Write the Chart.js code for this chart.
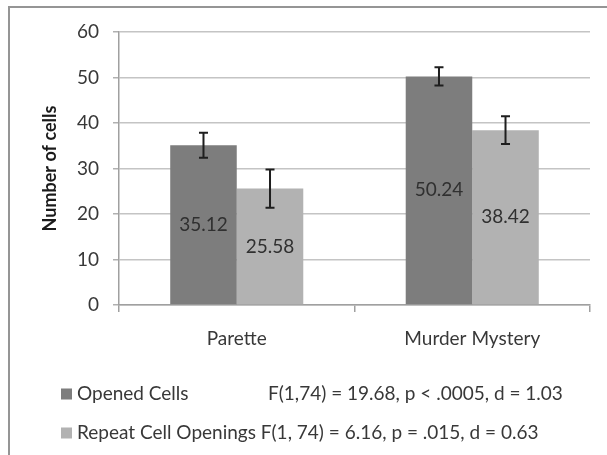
<!DOCTYPE html>
<html>
<head>
<meta charset="utf-8">
<script src="https://cdn.jsdelivr.net/npm/chart.js@4.4.1/dist/chart.umd.min.js"></script>
<style>
    body { margin: 0; background: #fff; }
    #wrap { position: relative; width: 607px; height: 455px; overflow: hidden; }
    #frame { position: absolute; left: 8px; top: 6px; width: 620px; height: 470px;
             border-left: 2px solid #959595; border-top: 2px solid #959595; }
    canvas { position: absolute; left: 0; top: 0; }
</style>
</head>
<body>
<div id="wrap">
    <div id="frame"></div>
    <canvas id="chartCells" width="607" height="455"></canvas>
</div>
<script>
// 数据
const categories = ['Parette', 'Murder Mystery'];
const seriesNames = ['Opened Cells', 'Repeat Cell Openings'];
const openedCells = [35.12, 50.24];
const repeatOpenings = [25.58, 38.42];
const openedErr = [2.75, 2.0];
const repeatErr = [4.2, 3.05];
const statTexts = ['F(1,74) = 19.68, p < .0005, d = 1.03', 'F(1, 74) = 6.16, p = .015, d = 0.63'];

const barColors = ['#7d7d7d', '#b2b2b2'];
const errors = [openedErr, repeatErr];
const textFont = '19px Lato';
const textColor = '#383838';

// 误差线 + 数值标签
const barExtras = {
    id: 'barExtras',
    afterDatasetsDraw(chart) {
        const ctx = chart.ctx;
        const yScale = chart.scales.y;
        ctx.save();
        chart.data.datasets.forEach((ds, di) => {
            chart.getDatasetMeta(di).data.forEach((bar, i) => {
                const v = ds.data[i];
                // label in the middle of the bar
                ctx.fillStyle = '#303030';
                ctx.font = textFont;
                ctx.textAlign = 'center';
                ctx.textBaseline = 'middle';
                ctx.fillText(v.toFixed(2), bar.x, (bar.y + bar.base) / 2);
                // error bar
                const e = errors[di][i];
                const yTop = yScale.getPixelForValue(v + e);
                const yBot = yScale.getPixelForValue(v - e);
                ctx.strokeStyle = '#1e1e1e';
                ctx.lineWidth = 2;
                ctx.beginPath();
                ctx.moveTo(bar.x, yTop); ctx.lineTo(bar.x, yBot);
                ctx.moveTo(bar.x - 4.5, yTop); ctx.lineTo(bar.x + 4.5, yTop);
                ctx.moveTo(bar.x - 4.5, yBot); ctx.lineTo(bar.x + 4.5, yBot);
                ctx.stroke();
            });
        });
        ctx.restore();
    }
};

// 图例（带统计结果）
const statLegend = {
    id: 'statLegend',
    afterDraw(chart) {
        const ctx = chart.ctx;
        const rows = [394, 433];
        ctx.save();
        ctx.font = textFont;
        ctx.textBaseline = 'middle';
        ctx.textAlign = 'left';
        seriesNames.forEach((name, i) => {
            ctx.fillStyle = barColors[i];
            ctx.fillRect(61, rows[i] - 5.5, 11, 11);
            ctx.fillStyle = textColor;
            ctx.fillText(name, 77, rows[i]);
            // 第一行对齐到固定列，第二行紧跟标签
            const sx = i === 0 ? 268 : 77 + ctx.measureText(name + ' ').width;
            ctx.fillText(statTexts[i], sx, rows[i]);
        });
        ctx.restore();
    }
};

let config_chartCells = {
    type: 'bar',
    data: {
        labels: categories,
        datasets: [
            { label: seriesNames[0], data: openedCells, backgroundColor: barColors[0] },
            { label: seriesNames[1], data: repeatOpenings, backgroundColor: barColors[1] }
        ]
    },
    options: {
        responsive: false,
        animation: false,
        categoryPercentage: 0.565,
        barPercentage: 1.0,
        layout: { padding: { top: 32, right: 17, left: 0, bottom: 0 } },
        plugins: { legend: { display: false }, tooltip: { enabled: false } },
        scales: {
            x: {
                grid: { display: true, drawOnChartArea: false, drawTicks: true, tickLength: 7, color: '#a0a0a0', lineWidth: 1.5 },
                border: { color: '#a0a0a0', width: 1.5 },
                ticks: { font: { family: 'Lato', size: 19 }, color: textColor, padding: 15 },
                afterFit: (scale) => { scale.height = 150; }
            },
            y: {
                min: 0, max: 60,
                ticks: { stepSize: 10, font: { family: 'Lato', size: 19 }, color: textColor, padding: 14 },
                grid: { color: '#c4c4c4', lineWidth: 1.5, tickLength: 6, tickColor: '#b0b0b0' },
                border: { color: '#a0a0a0', width: 1.5 },
                title: {
                    display: true, text: 'Number of cells', color: '#1a1a1a',
                    font: { family: 'Lato', size: 18, weight: 'bold' }, padding: { top: 39, bottom: 0 }
                },
                afterFit: (scale) => { scale.width = 119; }
            }
        }
    },
    plugins: [barExtras, statLegend]
};

let chartCells = new Chart(document.getElementById('chartCells'), config_chartCells);
</script>
</body>
</html>
